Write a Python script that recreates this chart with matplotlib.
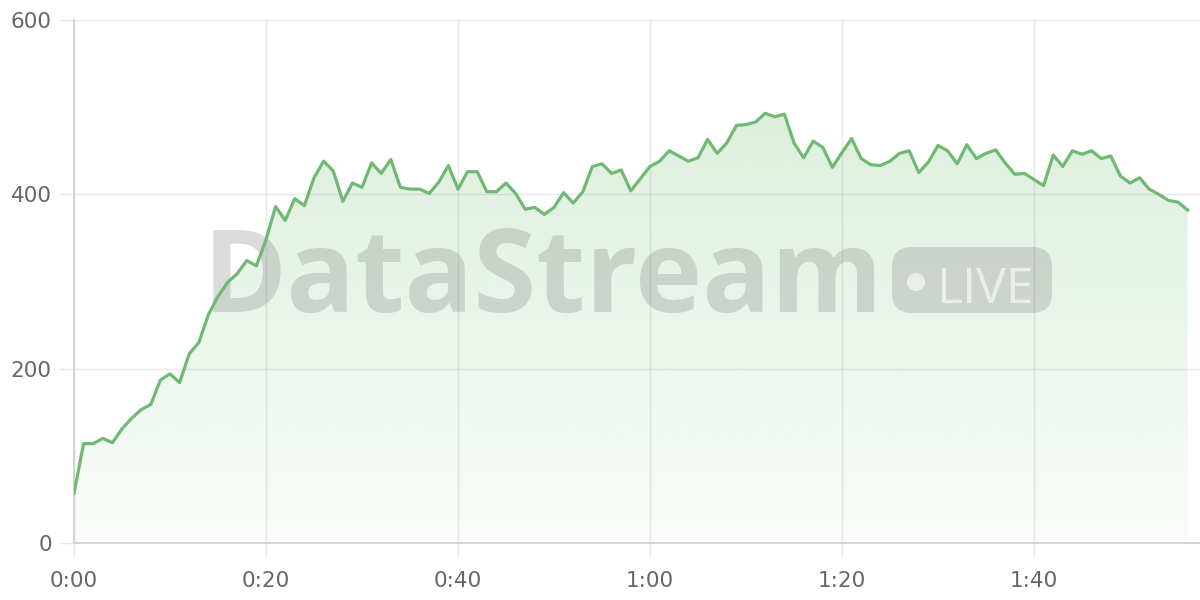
import numpy as np
import matplotlib.pyplot as plt
from matplotlib.colors import to_rgb
from matplotlib.patches import FancyBboxPatch, Circle

# viewers per second
values = [57, 114, 114, 120, 115, 131, 143, 153, 159, 187,
          194, 184, 217, 230, 262, 283, 299, 309, 324, 318,
          348, 386, 370, 395, 387, 419, 438, 427, 392, 413,
          408, 436, 424, 440, 408, 406, 406, 401, 414, 433,
          406, 426, 426, 403, 403, 413, 401, 383, 385, 377,
          385, 402, 390, 403, 432, 435, 424, 428, 404, 418,
          432, 438, 450, 444, 438, 442, 463, 447, 459, 479,
          480, 483, 493, 489, 492, 459, 442, 461, 454, 431,
          448, 464, 441, 434, 433, 438, 447, 450, 425, 437,
          456, 450, 435, 457, 441, 447, 451, 436, 423, 424,
          417, 410, 445, 432, 450, 446, 450, 441, 444, 421,
          413, 419, 406, 400, 393, 391, 382]
seconds = np.arange(len(values))

x_ticks = [0, 20, 40, 60, 80, 100]
x_labels = ['0:00', '0:20', '0:40', '1:00', '1:20', '1:40']
y_ticks = [0, 200, 400, 600]

green = '#6fb972'

fig = plt.figure(figsize=(12, 6), dpi=100)
ax = fig.add_axes([74 / 1200, 57 / 600, 1126 / 1200, 523 / 600])

# gradient fill under the line
poly = ax.fill_between(seconds, values, 0, color='none', lw=0)
grad = np.zeros((200, 1, 4))
grad[:, :, :3] = to_rgb(green)
grad[:, 0, 3] = np.linspace(0.04, 0.28, 200)
img = ax.imshow(grad, extent=[0, seconds[-1], 0, 600], origin='lower',
                aspect='auto', zorder=1, interpolation='bilinear')
img.set_clip_path(poly.get_paths()[0], transform=ax.transData)

# watermark
ax.text(203 / 1200, 288 / 600, 'DataStream', transform=fig.transFigure,
        family='Open Sans', fontweight='bold', fontsize=82,
        color='#808080', alpha=0.28, ha='left', va='baseline', zorder=2)
badge = FancyBboxPatch((8.92, 2.87), 1.60, 0.66,
                       boxstyle='round,pad=0,rounding_size=0.2',
                       transform=fig.dpi_scale_trans, fc='#808080',
                       ec='none', alpha=0.27, zorder=2)
ax.add_patch(badge)
ax.add_patch(Circle((9.16, 3.18), 0.09, transform=fig.dpi_scale_trans,
                    fc='white', ec='none', alpha=0.6, zorder=2.1))
ax.text(9.36, 2.97, 'LIVE', transform=fig.dpi_scale_trans,
        family='Open Sans', fontsize=36, color='white', alpha=0.6,
        ha='left', va='baseline', zorder=2.1)

ax.plot(seconds, values, color=green, lw=2.3, zorder=3)

ax.set_xlim(0, 1126 / 9.6)
ax.set_ylim(0, 600)
ax.set_xticks(x_ticks)
ax.set_xticklabels(x_labels)
ax.set_yticks(y_ticks)

ax.grid(color='#e8e8e8', lw=1)
ax.set_axisbelow(True)
for s in ['top', 'right']:
    ax.spines[s].set_visible(False)
for s in ['left', 'bottom']:
    ax.spines[s].set_color('#d4d4d4')
    ax.spines[s].set_linewidth(1.5)

ax.tick_params(length=11, width=1, color='#e8e8e8', labelsize=15.5,
               labelcolor='#666666')
ax.tick_params(axis='x', pad=9)
ax.tick_params(axis='y', pad=5)

fig.savefig('out.png', dpi=100)
